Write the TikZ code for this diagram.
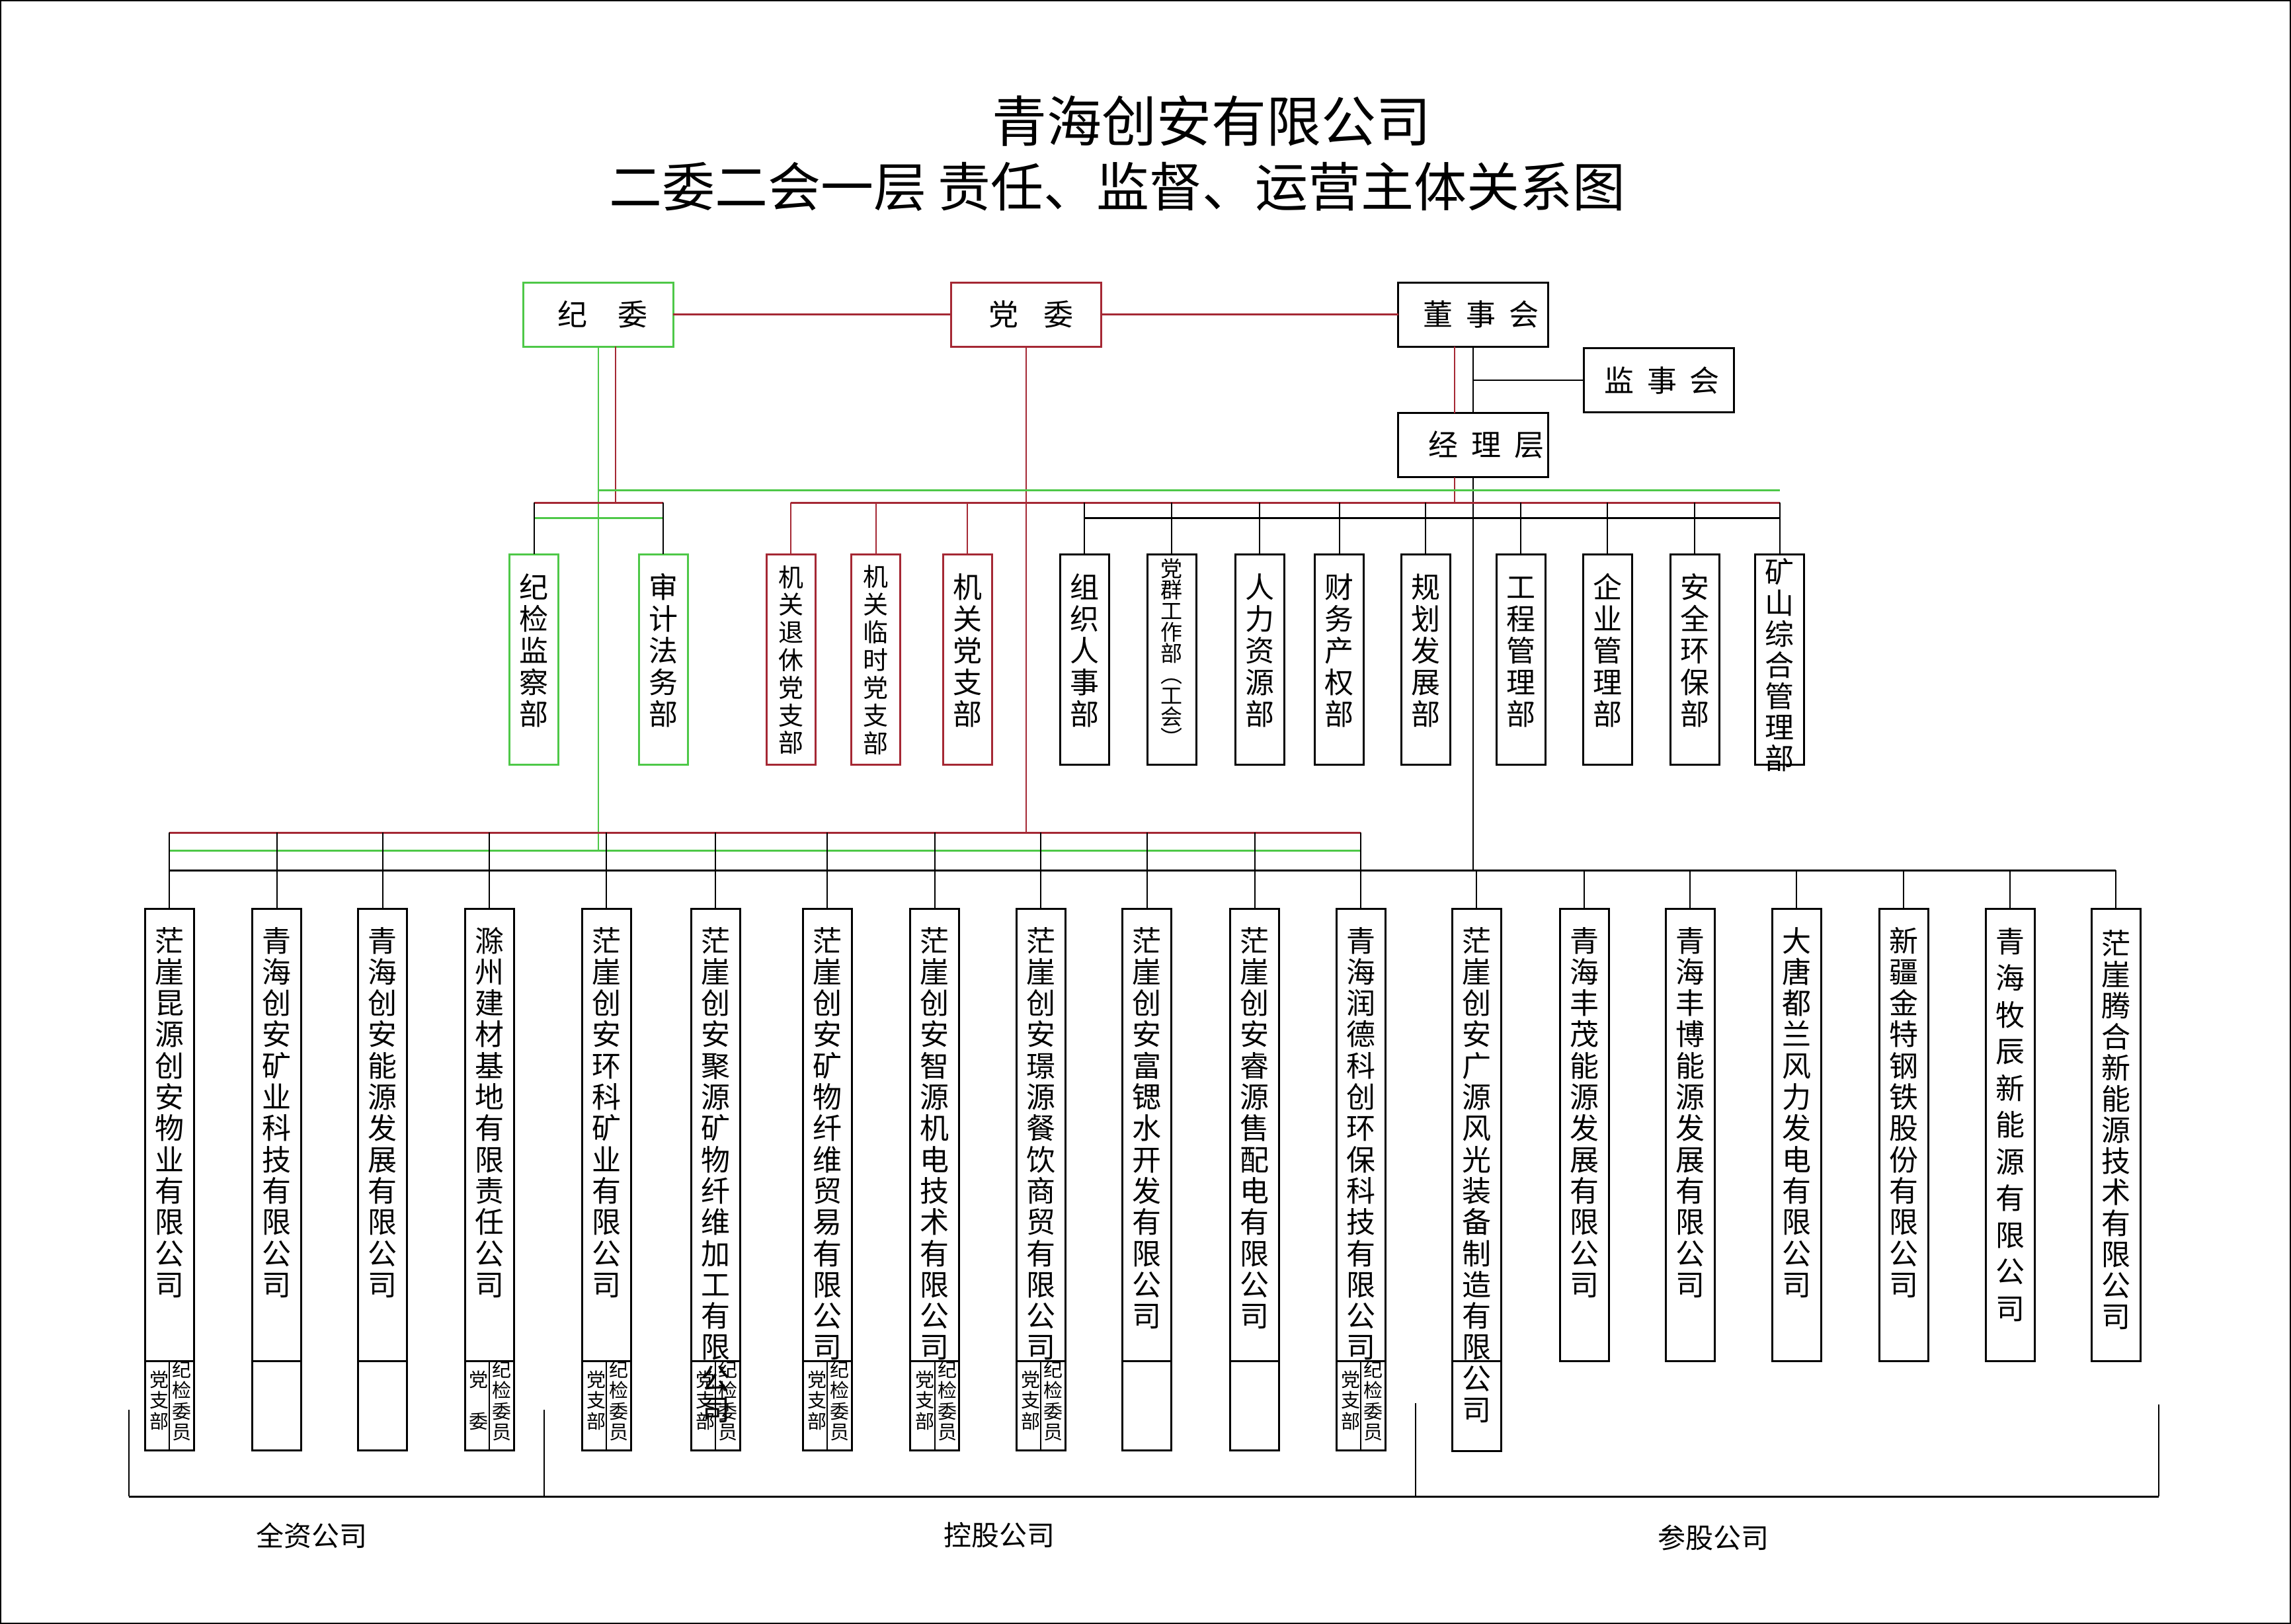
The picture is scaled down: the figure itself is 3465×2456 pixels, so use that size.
\documentclass[tikz,border=0pt]{standalone}
\usepackage{fontspec}
\setmainfont{Noto Sans CJK SC}
\definecolor{dred}{RGB}{165,40,52}
\definecolor{dgreen}{RGB}{78,200,72}
\def\vtE{}
\def\vtA#1{\ifx#1\vtE\else\hbox to 1.3em{\hss#1\hss}\expandafter\vtA\fi}
\newcommand\vt[2]{\vtop{\baselineskip=#1pt\lineskiplimit=-1000pt\lineskip=0pt\vtA#2\vtE}}
\tikzset{
 topbox/.style={draw, line width=3, minimum width=227, minimum height=97, inner sep=0, outer sep=0, font=\fontsize{45}{50}\selectfont},
 dbox/.style={draw, line width=3, minimum width=74, minimum height=318, inner sep=0, outer sep=0},
 cbox/.style={draw, line width=3, minimum width=74, inner sep=0, outer sep=0},
 vtxt/.style={anchor=base, inner sep=0, outer sep=0},
 utxt/.style={vtxt, font=\fontsize{44}{48}\selectfont},
 ltxt/.style={vtxt, font=\fontsize{44}{47}\selectfont},
 stxt/.style={vtxt, font=\fontsize{29}{31}\selectfont},
 kthin/.style={draw=black, line width=2},
 kbus/.style={draw=black, line width=3},
 rthin/.style={draw=dred, line width=2},
 rbus/.style={draw=dred, line width=3},
 gthin/.style={draw=dgreen, line width=2},
 gbus/.style={draw=dgreen, line width=3},
 lbl/.style={font=\fontsize{42}{46}\selectfont, inner sep=0},
}
\begin{document}
\begin{tikzpicture}[x=1pt,y=-1pt]
\useasboundingbox (0,0) rectangle (3465,2456);
\draw[line width=2] (1,1) rectangle (3464,2455);

% titles
\node[font=\fontsize{83}{90}\selectfont, inner sep=0] (t1) at (1832,183) {青海创安有限公司};
\node[font=\fontsize{80}{90}\selectfont, inner sep=0] (t2) at (1690,282) {二委二会一层 责任、监督、运营主体关系图};

% bus levels
\coordinate (yU1) at (0,741);
\coordinate (yU2) at (0,760);
\coordinate (yU3) at (0,783);
\coordinate (yL1) at (0,1259);
\coordinate (yL2) at (0,1286);
\coordinate (yL3) at (0,1316);
\coordinate (ydiv) at (0,2058);

% top boxes
\node[topbox, draw=dgreen] (jw) at (904.5,475.5) {\hspace*{14pt}纪\hspace{46pt}委};
\node[topbox, draw=dred] (dw) at (1552,475.5) {\hspace*{14pt}党\hspace{38pt}委};
\node[topbox] (dsh) at (2228,475.5) {\hspace*{24pt}董\hspace{20pt}事\hspace{20pt}会};
\node[topbox] (jsh) at (2508.5,575) {\hspace*{10pt}监\hspace{20pt}事\hspace{20pt}会};
\node[topbox] (jlc) at (2228,673) {\hspace*{40pt}经\hspace{20pt}理\hspace{20pt}层};

% upper department boxes
\node[dbox, draw=dgreen] (jjc) at (807.6,997) {};
\node[dbox, draw=dgreen] (sjf) at (1003,997) {};
\node[dbox, draw=dred] (jt) at (1196.4,997) {};
\node[dbox, draw=dred] (jl) at (1324.5,997) {};
\node[dbox, draw=dred] (jd) at (1463.4,997) {};
\node[dbox] (zz) at (1640,997) {};
\node[dbox] (dq) at (1772,997) {};
\node[dbox] (rl) at (1905.4,997) {};
\node[dbox] (cw) at (2025.7,997) {};
\node[dbox] (gh) at (2156,997) {};
\node[dbox] (gc) at (2300,997) {};
\node[dbox] (qy) at (2431,997) {};
\node[dbox] (aq) at (2563,997) {};
\node[dbox] (kszh) at (2691.7,997) {};

\node[utxt] (jjct) at (807.6,904) {\vt{48}{纪检监察部}};
\node[utxt] (sjft) at (1003,904) {\vt{48}{审计法务部}};
\node[vtxt, font=\fontsize{38}{42}\selectfont] (jtt) at (1196.4,887) {\vt{41.8}{机关退休党支部}};
\node[vtxt, font=\fontsize{38}{42}\selectfont] (jlt) at (1324.5,886) {\vt{42}{机关临时党支部}};
\node[utxt] (jdt) at (1463.4,904) {\vt{48}{机关党支部}};
\node[utxt] (zzt) at (1640,904) {\vt{48}{组织人事部}};
\node[vtxt, font=\fontsize{33}{36}\selectfont] (dqt) at (1772,872) {\vt{32}{党群工作部︵工会︶}};
\node[utxt] (rlt) at (1905.4,904) {\vt{48}{人力资源部}};
\node[utxt] (cwt) at (2025.7,904) {\vt{48}{财务产权部}};
\node[utxt] (ght) at (2156,904) {\vt{48}{规划发展部}};
\node[utxt] (gct) at (2300,904) {\vt{48}{工程管理部}};
\node[utxt] (qyt) at (2431,904) {\vt{48}{企业管理部}};
\node[utxt] (aqt) at (2563,904) {\vt{48}{安全环保部}};
\node[utxt] (kszht) at (2691.7,881) {\vt{47}{矿山综合管理部}};

% top connectors
\draw[rbus] (jw.east) -- (dw.west);
\draw[rbus] (dw.east) -- (dsh.west);
\coordinate (jwr) at ([xshift=26pt]jw.south);
\coordinate (dshr) at ([xshift=-28pt]dsh.south);
\draw[gthin] (jw.south) -- (jw.south |- yL2);
\draw[rthin] (jwr) -- (jwr |- yU2);
\draw[rthin] (dw.south) -- (dw.south |- yL1);
\draw[rthin] (dshr) -- (dshr |- jlc.north);
\draw[rthin] (dshr |- jlc.south) -- (dshr |- yU2);
\draw[kthin] (dsh.south) -- (jlc.north);
\draw[kthin] (jsh.west -| dsh.south) -- (jsh.west);
\draw[kthin] (jlc.south) -- (jlc.south |- yL3);

% upper buses
\draw[gbus] (jw.south |- yU1) -- (kszh.north |- yU1);
\draw[rbus] (jjc.north |- yU2) -- (sjf.north |- yU2);
\draw[gbus] (jjc.north |- yU3) -- (sjf.north |- yU3);
\draw[kthin] (jjc.north |- yU2) -- (jjc.north);
\draw[kthin] (sjf.north |- yU2) -- (sjf.north);
\draw[rbus] (jt.north |- yU2) -- (kszh.north |- yU2);
\foreach \b in {jt,jl,jd}{\draw[rthin] (\b.north |- yU2) -- (\b.north);}
\foreach \b in {zz,dq,rl,cw,gh,gc,qy,aq,kszh}{\draw[kthin] (\b.north |- yU2) -- (\b.north);}
\draw[kbus] (zz.north |- yU3) -- (kszh.north |- yU3);

% lower company boxes
\node[cbox, minimum height=819] (b1) at (256,1783.5) {};
\node[cbox, minimum height=819] (b2) at (418.5,1783.5) {};
\node[cbox, minimum height=819] (b3) at (578.5,1783.5) {};
\node[cbox, minimum height=819] (b4) at (740,1783.5) {};
\node[cbox, minimum height=819] (b5) at (917,1783.5) {};
\node[cbox, minimum height=819] (b6) at (1082,1783.5) {};
\node[cbox, minimum height=819] (b7) at (1251,1783.5) {};
\node[cbox, minimum height=819] (b8) at (1413.6,1783.5) {};
\node[cbox, minimum height=819] (b9) at (1574,1783.5) {};
\node[cbox, minimum height=819] (b10) at (1734.5,1783.5) {};
\node[cbox, minimum height=819] (b11) at (1897.7,1783.5) {};
\node[cbox, minimum height=819] (b12) at (2058.4,1783.5) {};
\node[cbox, minimum height=820] (b13) at (2233,1784) {};
\node[cbox, minimum height=684] (b14) at (2396,1716) {};
\node[cbox, minimum height=684] (b15) at (2556,1716) {};
\node[cbox, minimum height=684] (b16) at (2717,1716) {};
\node[cbox, minimum height=684] (b17) at (2879,1716) {};
\node[cbox, minimum height=684] (b18) at (3040,1716) {};
\node[cbox, minimum height=684] (b19) at (3200,1716) {};

\foreach \i in {1,...,13}{\draw[kbus] (b\i.west |- ydiv) -- (b\i.east |- ydiv);}
\foreach \i in {1,4,5,6,7,8,9,12}{\draw[kthin] (b\i.south) -- (b\i.south |- ydiv);}

\node[ltxt] (b1t) at (256,1439) {\vt{47.3}{茫崖昆源创安物业有限公司}};
\node[ltxt] (b2t) at (418.5,1439) {\vt{47.3}{青海创安矿业科技有限公司}};
\node[ltxt] (b3t) at (578.5,1439) {\vt{47.3}{青海创安能源发展有限公司}};
\node[ltxt] (b4t) at (740,1439) {\vt{47.3}{滁州建材基地有限责任公司}};
\node[ltxt] (b5t) at (917,1439) {\vt{47.3}{茫崖创安环科矿业有限公司}};
\node[ltxt] (b6t) at (1082,1439) {\vt{47.3}{茫崖创安聚源矿物纤维加工有限公司}};
\node[ltxt] (b7t) at (1251,1439) {\vt{47.3}{茫崖创安矿物纤维贸易有限公司}};
\node[ltxt] (b8t) at (1413.6,1439) {\vt{47.3}{茫崖创安智源机电技术有限公司}};
\node[ltxt] (b9t) at (1574,1439) {\vt{47.3}{茫崖创安璟源餐饮商贸有限公司}};
\node[ltxt] (b10t) at (1734.5,1439) {\vt{47.3}{茫崖创安富锶水开发有限公司}};
\node[ltxt] (b11t) at (1897.7,1439) {\vt{47.3}{茫崖创安睿源售配电有限公司}};
\node[ltxt] (b12t) at (2058.4,1439) {\vt{47.3}{青海润德科创环保科技有限公司}};
\node[ltxt] (b13t) at (2233,1439) {\vt{47.3}{茫崖创安广源风光装备制造有限公司}};
\node[ltxt] (b14t) at (2396,1439) {\vt{47.3}{青海丰茂能源发展有限公司}};
\node[ltxt] (b15t) at (2556,1439) {\vt{47.3}{青海丰博能源发展有限公司}};
\node[ltxt] (b16t) at (2717,1439) {\vt{47.3}{大唐都兰风力发电有限公司}};
\node[ltxt] (b17t) at (2879,1439) {\vt{47.3}{新疆金特钢铁股份有限公司}};
\node[ltxt] (b18t) at (3040,1440) {\vt{55.5}{青海牧辰新能源有限公司}};
\node[ltxt] (b19t) at (3200,1443) {\vt{47}{茫崖腾合新能源技术有限公司}};

% sub-box texts
\foreach \n/\x in {1/256,5/917,6/1082,7/1251,8/1413.6,9/1574,12/2058.4}{
  \node[stxt] (s\n l) at (\x-15,2097) {\vt{31.5}{党支部}};
  \node[stxt] (s\n r) at (\x+19,2082) {\vt{31.5}{纪检委员}};
}
\node[stxt] (s4l) at (724,2097) {\vt{31.5}{党　委}};
\node[stxt] (s4r) at (759,2082) {\vt{31.5}{纪检委员}};

% lower buses
\draw[kthin] (jw.south |- yL2) -- (jw.south |- yL2);
\draw[rbus] (b1.north |- yL1) -- (b12.north |- yL1);
\draw[gbus] (b1.north |- yL2) -- (b12.north |- yL2);
\draw[kbus] (b1.north |- yL3) -- (b19.north |- yL3);
\foreach \i in {1,...,12}{\draw[kthin] (b\i.north |- yL1) -- (b\i.north);}
\foreach \i in {13,...,19}{\draw[kthin] (b\i.north |- yL3) -- (b\i.north);}

% bottom bracket
\coordinate (bk1) at (195,2132);
\coordinate (bk2) at (195,2263);
\coordinate (bk3) at (3265,2263);
\coordinate (bk4) at (3265,2124);
\coordinate (sp1t) at (822.6,2132);
\coordinate (sp1b) at (822.6,2263);
\coordinate (sp2t) at (2140.7,2122);
\coordinate (sp2b) at (2140.7,2263);
\draw[kthin] (bk1) -- (bk2);
\draw[kbus] (bk2) -- (bk3);
\draw[kthin] (bk3) -- (bk4);
\draw[kthin] (sp1t) -- (sp1b);
\draw[kthin] (sp2t) -- (sp2b);

\node[lbl] (lq) at (471,2322) {全资公司};
\node[lbl] (lk) at (1511,2322) {控股公司};
\node[lbl] (lc) at (2591,2325) {参股公司};
\end{tikzpicture}
\end{document}
